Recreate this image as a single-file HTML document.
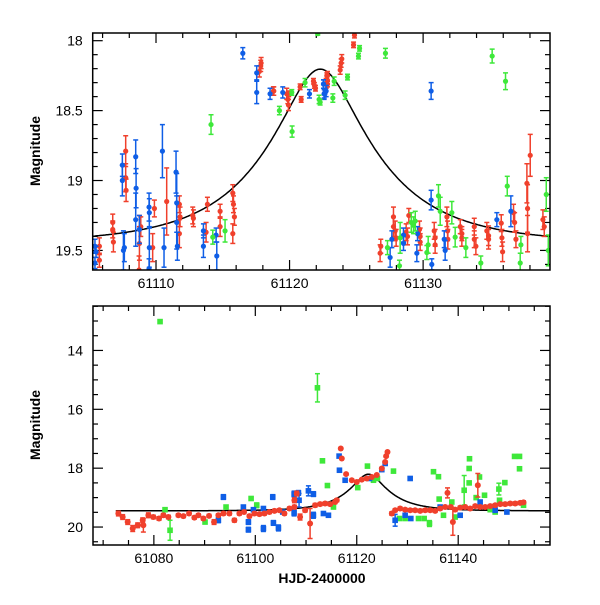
<!DOCTYPE html>
<html><head><meta charset="utf-8"><style>
body{margin:0;background:#fff;width:600px;height:600px;overflow:hidden}
text{font-family:"Liberation Sans",sans-serif;font-size:14px;fill:#000}
</style></head><body>
<svg id="chart" width="600" height="600" xmlns="http://www.w3.org/2000/svg">
<defs>
<clipPath id="clipTop"><rect x="92.7" y="33" width="457.3" height="237"/></clipPath>
<clipPath id="clipBot"><rect x="93" y="306" width="457" height="239"/></clipPath>
</defs>
</svg>
<script>
// ---- data: [HJD-2400000, magnitude, error] ----
const topBlue=[[61105.43,19.47,.05],[61105.51,19.51,.04],[61105.43,19.59,.04],[61107.48,18.89,.08],[61107.48,19.00,.11],[61107.56,19.50,.14],[61107.63,19.48,.10],[61108.48,18.83,.12],[61108.51,19.055,.14],[61108.48,19.28,.19],[61108.76,19.35,.10],[61109.48,19.19,.10],[61109.50,19.23,.10],[61109.50,19.48,.14],[61109.48,19.63,.07],[61110.48,18.79,.19],[61110.60,19.48,.14],[61111.50,18.94,.15],[61111.55,19.16,.21],[61111.55,19.30,.19],[61111.60,19.47,.10],[61113.55,19.36,.05],[61113.55,19.47,.08],[61114.50,19.39,.05],[61114.55,19.54,.10],[61116.50,18.09,.04],[61117.54,18.23,.05],[61117.54,18.37,.08],[61118.54,18.38,.04],[61119.49,18.37,.04],[61121.49,18.38,.03],[61122.54,18.31,.03],[61122.59,18.38,.04],[61122.74,18.36,.04],[61122.54,18.31,.03],[61122.59,18.38,.03],[61122.66,18.36,.02],[61127.53,19.55,.07],[61127.66,19.42,.06],[61128.53,19.39,.05],[61128.53,19.45,.05],[61129.53,19.52,.06],[61129.58,19.38,.05],[61130.60,18.36,.06],[61130.60,19.14,.07],[61130.65,19.60,.04],[61131.58,19.42,.06],[61131.65,19.50,.07],[61135.52,19.28,.05],[61136.57,19.22,.11]];
const topRed=[[61105.76,19.47,.06],[61105.76,19.57,.05],[61106.76,19.30,.06],[61106.76,19.35,.06],[61106.81,19.44,.07],[61107.73,18.79,.11],[61107.73,18.98,.10],[61107.76,19.07,.08],[61108.76,19.35,.10],[61108.76,19.45,.12],[61108.86,19.33,.07],[61108.73,19.64,.10],[61109.75,19.48,.10],[61109.88,19.20,.06],[61110.80,19.15,.24],[61111.75,19.17,.06],[61111.80,19.26,.07],[61111.75,19.38,.10],[61112.75,19.25,.06],[61112.80,19.27,.06],[61113.75,19.37,.07],[61113.85,19.17,.05],[61114.80,19.22,.05],[61114.80,19.33,.07],[61115.75,19.09,.06],[61115.80,19.17,.06],[61115.87,19.26,.06],[61115.75,19.38,.07],[61117.74,18.22,.04],[61117.84,18.18,.04],[61117.87,18.16,.04],[61118.79,18.36,.03],[61118.82,18.36,.03],[61119.79,18.38,.04],[61119.87,18.42,.03],[61119.92,18.46,.04],[61119.94,18.38,.02],[61120.79,18.33,.02],[61120.87,18.42,.02],[61121.79,18.29,.02],[61121.86,18.32,.02],[61121.94,18.34,.02],[61122.79,18.25,.02],[61122.84,18.31,.02],[61122.74,18.305,.035],[61122.84,18.25,.03],[61123.79,18.21,.03],[61123.86,18.16,.03],[61123.91,18.13,.03],[61124.79,18.03,.02],[61124.86,17.96,.02],[61126.78,19.52,.06],[61126.83,19.47,.05],[61127.78,19.26,.07],[61127.78,19.33,.07],[61127.91,19.36,.07],[61127.98,19.41,.06],[61128.73,19.37,.06],[61128.83,19.40,.06],[61128.93,19.25,.05],[61129.73,19.35,.06],[61129.78,19.40,.06],[61129.78,19.44,.06],[61130.83,19.36,.06],[61130.90,19.41,.06],[61130.90,19.46,.06],[61131.78,19.26,.07],[61131.83,19.36,.07],[61131.85,19.42,.07],[61132.78,19.33,.05],[61132.90,19.38,.05],[61132.90,19.41,.06],[61133.83,19.33,.06],[61133.83,19.42,.06],[61133.95,19.47,.06],[61134.77,19.36,.06],[61134.90,19.395,.07],[61134.90,19.42,.07],[61135.85,19.305,.06],[61135.90,19.41,.06],[61135.95,19.51,.07],[61136.77,19.23,.06],[61136.85,19.30,.07],[61136.95,19.42,.06],[61137.77,19.02,.14],[61137.82,19.20,.17],[61137.82,19.38,.13],[61138.02,18.82,.15],[61138.97,19.28,.07],[61139.07,19.33,.07]];
const topGreen=[[61114.12,18.60,.07],[61114.25,19.405,.05],[61115.17,19.36,.08],[61119.24,18.50,.03],[61120.19,18.65,.04],[61120.17,18.37,.02],[61121.16,18.30,.03],[61122.21,18.42,.03],[61122.11,17.95,.01],[61122.29,18.44,.02],[61123.24,18.41,.03],[61123.34,18.29,.03],[61124.16,18.39,.03],[61124.34,18.26,.02],[61125.24,18.055,.02],[61125.16,18.11,.02],[61127.18,18.09,.035],[61127.33,19.48,.05],[61128.28,19.41,.11],[61128.23,19.61,.04],[61129.11,19.30,.07],[61129.28,19.32,.06],[61129.41,19.29,.07],[61130.28,19.515,.05],[61130.38,19.46,.06],[61131.15,19.11,.08],[61131.28,19.22,.10],[61132.15,19.23,.08],[61132.40,19.405,.07],[61133.20,19.48,.07],[61134.32,19.59,.05],[61135.17,18.11,.05],[61136.17,18.29,.06],[61136.30,19.04,.07],[61137.27,19.59,.07],[61137.32,19.46,.06],[61139.22,19.10,.12],[61139.37,19.50,.11]];

const botRed=[[61073.0,19.54,.08],[61073.85,19.66,.08],[61074.84,19.83,.08],[61075.83,20.05,.1],[61076.81,19.94,.08],[61077.80,19.77,.08],[61077.93,19.94,.23],[61078.92,19.60,.08],[61079.90,19.66,.06],[61081.02,19.71,.06],[61081.87,19.60,.06],[61082.86,19.66,.06],[61084.83,19.60,.05],[61085.82,19.63,.05],[61086.94,19.54,.05],[61087.99,19.68,.05],[61088.78,19.60,.05],[61089.76,19.71,.05],[61090.88,19.62,.05],[61091.87,19.83,.08],[61092.72,19.60,.05],[61093.71,19.54,.05],[61094.89,19.54,.05],[61095.88,19.77,.06],[61096.86,19.54,.05],[61097.78,19.49,.05],[61098.84,19.63,.05],[61099.82,19.54,.05],[61100.81,19.56,.05],[61101.80,19.54,.05],[61102.78,19.49,.05],[61103.77,19.45,.05],[61104.75,19.43,.05],[61105.74,19.54,.05],[61106.73,19.37,.05],[61107.71,19.32,.06],[61107.71,19.09,.08],[61108.17,18.86,.08],[61108.83,19.66,.1],[61109.82,19.43,.06],[61110.80,19.88,.51],[61111.79,19.26,.06],[61112.78,19.22,.05],[61113.76,19.20,.05],[61114.75,19.22,.05],[61115.73,19.15,.05],[61116.06,19.09,.05],[61116.85,17.33,.03],[61117.05,17.67,.03],[61117.90,18.20,.03],[61119.02,18.41,.03],[61120.01,18.47,.03],[61120.99,18.39,.03],[61121.98,18.35,.03],[61122.97,18.30,.03],[61123.95,18.23,.03],[61124.94,18.01,.03],[61125.60,17.79,.03],[61125.79,17.59,.03],[61126.06,17.45,.03],[61126.91,19.54,.06],[61127.57,19.43,.05],[61128.55,19.37,.05],[61129.54,19.41,.05],[61130.53,19.43,.05],[61131.51,19.43,.05],[61132.50,19.45,.05],[61133.49,19.43,.05],[61134.47,19.43,.05],[61135.46,19.45,.05],[61136.44,19.37,.05],[61137.43,19.32,.05],[61137.89,18.84,.17],[61138.55,19.32,.05],[61138.95,19.83,.45],[61139.40,19.41,.05],[61140.39,19.34,.05],[61141.37,19.32,.05],[61142.36,19.37,.05],[61143.35,19.29,.05],[61143.87,18.58,.4],[61144.33,19.32,.05],[61145.32,19.32,.05],[61146.31,19.29,.05],[61147.29,19.26,.05],[61148.28,19.22,.05],[61149.26,19.22,.05],[61150.25,19.20,.05],[61151.24,19.20,.05],[61152.22,19.18,.05],[61152.88,19.16,.05]];
const botBlue=[[61093.71,18.98,.08],[61092.72,19.77,.08],[61097.65,19.32,.06],[61098.64,19.83,.08],[61098.64,20.09,.08],[61099.63,19.41,.06],[61101.60,19.37,.06],[61101.60,20.05,.1],[61103.44,18.98,.08],[61103.57,19.86,.08],[61104.56,20.03,.1],[61105.41,19.49,.06],[61107.65,18.88,.1],[61107.65,19.52,.1],[61108.50,18.84,.08],[61108.63,19.09,.23],[61110.47,18.77,.17],[61111.46,18.88,.08],[61111.46,19.60,.1],[61113.43,19.54,.06],[61114.42,19.60,.06],[61116.52,17.59,.05],[61116.59,18.07,.05],[61117.71,18.41,.05],[61122.51,18.35,.04],[61124.94,18.05,.04],[61125.60,17.84,.04],[61127.57,19.77,.2],[61129.54,19.60,.06],[61130.53,18.35,.06],[61130.66,19.71,.06],[61136.44,19.32,.05],[61140.39,19.60,.06],[61144.33,19.15,.05],[61147.29,19.43,.05],[61149.60,19.49,.05]];
const botGreen=[[61081.22,13.02,.05],[61112.25,15.27,.48],[61082.20,19.41,.06],[61083.19,20.11,.34],[61090.09,19.83,.06],[61094.23,19.32,.06],[61099.17,19.03,.06],[61100.28,19.26,.08],[61113.24,17.75,.05],[61114.22,18.59,.05],[61115.41,19.32,.05],[61120.20,18.66,.05],[61122.11,17.93,.05],[61123.30,18.41,.05],[61124.08,18.35,.05],[61127.24,18.10,.05],[61128.42,19.71,.05],[61129.54,19.71,.05],[61132.17,19.71,.05],[61133.29,19.71,.05],[61134.34,19.88,.1],[61135.13,18.12,.05],[61136.11,18.29,.05],[61136.25,19.05,.05],[61137.10,19.60,.05],[61138.74,19.15,.05],[61139.40,19.66,.06],[61141.18,18.75,.5],[61142.23,17.68,.05],[61142.16,18.01,.05],[61142.16,18.50,.05],[61143.54,19.00,.05],[61144.20,18.30,.05],[61145.19,18.92,.05],[61146.31,19.41,.05],[61147.29,19.49,.05],[61148.02,18.71,.2],[61148.15,19.09,.05],[61149.20,18.49,.05],[61151.11,17.60,.05],[61152.09,17.60,.05],[61152.09,18.02,.05],[61152.88,19.26,.05]];

const topXTicks=[61110,61120,61130];
const topYTicks=[18,18.5,19,19.5];
const botXTicks=[61080,61100,61120,61140];
const botYTicks=[14,16,18,20];
// model parameters
const modelT0=[61122.3], modelTE=[8.0], modelU0=[0.33], modelBase=[19.45];

const NS="http://www.w3.org/2000/svg";
const svg=document.getElementById('chart');
function el(tag,attrs,parent){const e=document.createElementNS(NS,tag);for(const k in attrs)e.setAttribute(k,attrs[k]);(parent||svg).appendChild(e);return e;}
const COL={red:'#f0402c',blue:'#0f5ee6',green:'#3ee83a'};

function model(t){const u=Math.sqrt(modelU0[0]**2+((t-modelT0[0])/modelTE[0])**2);const A=(u*u+2)/(u*Math.sqrt(u*u+4));return modelBase[0]-2.5*Math.log10(A);}

function panel(cfg){
  const {x0,x1,y0,y1,t0,t1,m0,m1,name,clip}=cfg;
  const sx=t=>x0+(t-t0)/(t1-t0)*(x1-x0);
  const sy=m=>y0+(m-m0)/(m1-m0)*(y1-y0);
  const g=el('g',{});
  
  
  const tg=el('g',{stroke:'#000','stroke-width':1.2},g);
  
  
  for(let t=Math.ceil(t0/cfg.xMinor)*cfg.xMinor;t<=t1;t+=cfg.xMinor){
    const major=Math.abs(t/cfg.xMajor-Math.round(t/cfg.xMajor))<1e-6;const L=major?10:5;const x=sx(t);
    el('line',{x1:x,y1:y1,x2:x,y2:y1-L},tg);el('line',{x1:x,y1:y0,x2:x,y2:y0+L},tg);
  }
  for(let k=Math.ceil(m0/cfg.yMinor-1e-6);k*cfg.yMinor<=m1+1e-9;k++){
    const m=k*cfg.yMinor;const major=Math.abs(m/cfg.yMajor-Math.round(m/cfg.yMajor))<1e-6;const L=major?10:5;const y=sy(m);
    el('line',{x1:x0,y1:y,x2:x0+L,y2:y},tg);el('line',{x1:x1,y1:y,x2:x1-L,y2:y},tg);
  }
  cfg.xTicks.forEach(t=>{const tx=el('text',{x:sx(t),y:y1+18,'text-anchor':'middle'},g);tx.textContent=t;
    
    });
  cfg.yTicks.forEach(m=>{const tx=el('text',{x:x0-10,y:sy(m)+5,'text-anchor':'end'},g);tx.textContent=m;
    
    });
  const cg=el('g',{'clip-path':'url(#'+clip+')'},g);
  let d='';for(let t=cfg.ct0;t<=cfg.ct1;t+=0.1){d+=(d?'L':'M')+sx(t).toFixed(1)+','+sy(model(t)).toFixed(1);}
  const path=el('path',{d:d,fill:'none',stroke:'#000','stroke-width':1.5},cg);
  
  
  cfg.series.forEach(([data,color,sname,shape])=>{
    const sg=el('g',{stroke:COL[color],fill:COL[color]},cg);
    
    
    data.forEach(([t,m,e])=>{
      const x=sx(t),y=sy(m),ya=sy(m-e),yb=sy(m+e);
      el('line',{x1:x,y1:ya,x2:x,y2:yb,'stroke-width':1.5},sg);
      el('line',{x1:x-2.5,y1:ya,x2:x+2.5,y2:ya,'stroke-width':1.5},sg);
      el('line',{x1:x-2.5,y1:yb,x2:x+2.5,y2:yb,'stroke-width':1.5},sg);
      let c;
      if(shape==='sq') c=el('rect',{x:x-2.8,y:y-2.8,width:5.6,height:5.6,stroke:'none'},sg);
      else c=el('circle',{cx:x,cy:y,r:cfg.r,stroke:'none'},sg);
      
      
    });
  });
  const fr=el('rect',{x:x0,y:y0,width:x1-x0,height:y1-y0,fill:'none',stroke:'#000','stroke-width':1.5},g);
  
  
}

panel({name:'top-panel',clip:'clipTop',x0:92.7,x1:550,y0:33,y1:270,t0:61105.26,t1:61139.5,m0:17.945,m1:19.64,r:2.6,
  xMinor:2,xMajor:10,yMinor:0.1,yMajor:0.5,xTicks:topXTicks,yTicks:topYTicks,ct0:61105,ct1:61140,
  series:[[topRed,'red','red-series','c'],[topBlue,'blue','blue-series','c'],[topGreen,'green','green-series','c']]});
panel({name:'bottom-panel',clip:'clipBot',x0:93,x1:550,y0:306,y1:545,t0:61068,t1:61158.1,m0:12.49,m1:20.61,r:3,
  xMinor:5,xMajor:20,yMinor:0.5,yMajor:2,xTicks:botXTicks,yTicks:botYTicks,ct0:61072.5,ct1:61158.1,
  series:[[botGreen,'green','green-series','sq'],[botBlue,'blue','blue-series','sq'],[botRed,'red','red-series','c']]});

const a1=el('text',{x:40,y:151,'text-anchor':'middle',transform:'rotate(-90 40 151)','font-weight':'bold'});a1.textContent='Magnitude';


const a2=el('text',{x:40,y:425,'text-anchor':'middle',transform:'rotate(-90 40 425)','font-weight':'bold'});a2.textContent='Magnitude';


const a3=el('text',{x:322,y:583,'text-anchor':'middle','font-weight':'bold','font-size':'15px'});a3.textContent='HJD-2400000';


</script>
</body></html>
